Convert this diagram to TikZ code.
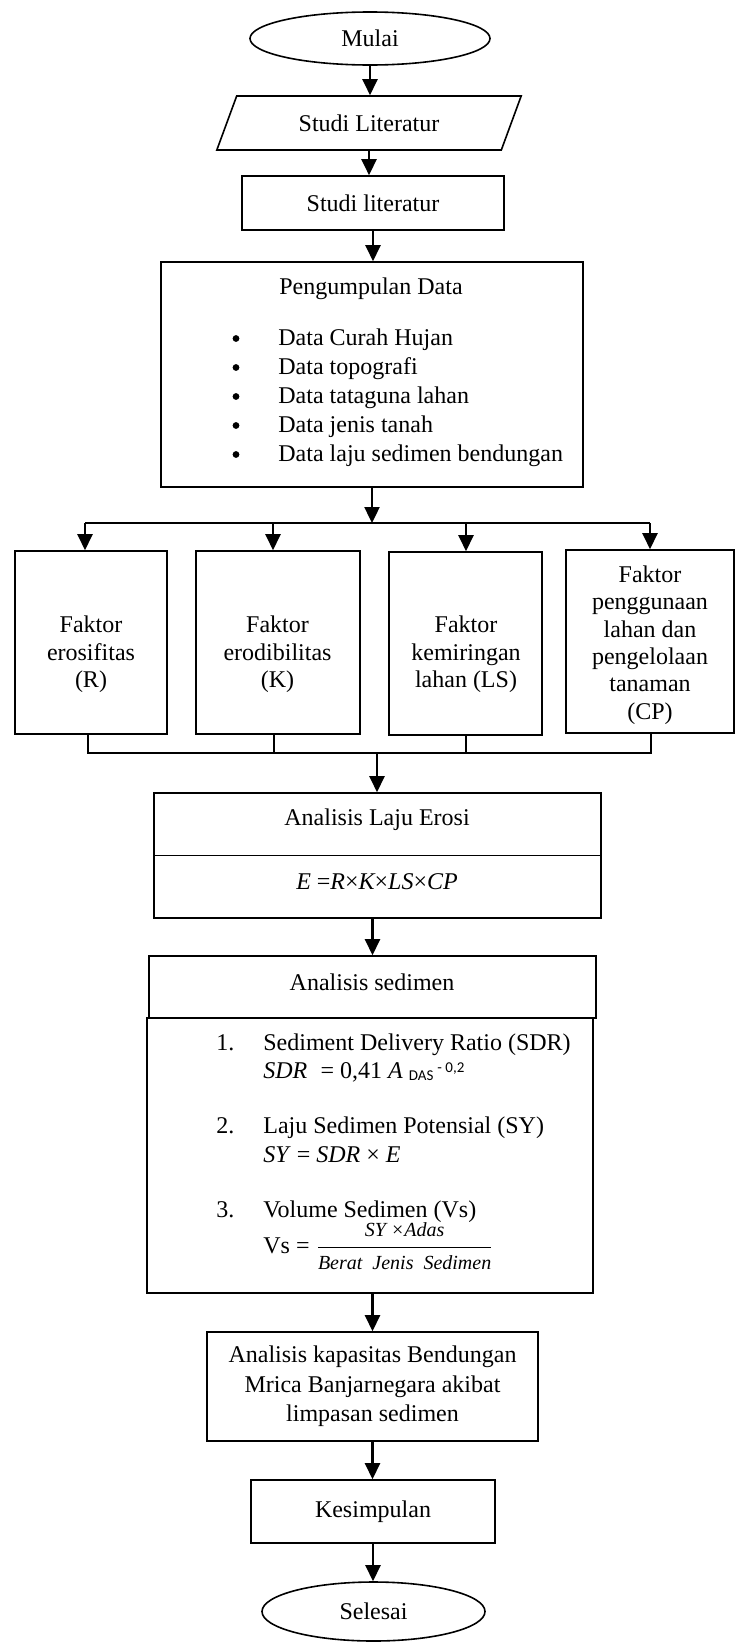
\documentclass[tikz,border=0pt]{standalone}
\usepackage{fontspec}
\setmainfont{Liberation Serif}
\newfontfamily\calibri{Carlito}
\usetikzlibrary{shapes.geometric,arrows.meta}
\begin{document}
\begin{tikzpicture}[x=0.5pt,y=-0.5pt,
  every node/.style={font=\fontsize{12}{14.5}\selectfont, inner sep=0pt},
  boxs/.style={draw, line width=0.8pt, rectangle},
  ell/.style={draw, line width=0.8pt, ellipse},
  arr/.style={line width=1.2pt, -{Triangle[length=8pt,width=7.5pt]}},
  bus/.style={line width=1.1pt},
  conn/.style={line width=0.65pt},
  dot/.style={circle, fill, minimum size=3.4pt},
  txt/.style={align=center}]
\useasboundingbox (0,0) rectangle (741,1644);
\fill[white] (0,0) rectangle (741,1644);

% top part
\node[ell, minimum width=120pt, minimum height=26.5pt] (mulai) at (370,38.5) {Mulai};
\node[draw, line width=0.8pt, trapezium, trapezium left angle=58, trapezium right angle=122,
      trapezium stretches=true, minimum width=153pt, minimum height=27pt] (lit1) at (369,123) {Studi Literatur};
\node[boxs, minimum width=131pt, minimum height=27pt] (lit2) at (373,203) {Studi literatur};

\node[boxs, minimum width=211pt, minimum height=112.5pt] (data) at (372,374.5) {};
\node[anchor=base] (dtitle) at (371,294) {Pengumpulan Data};
\foreach \t/\yy [count=\i] in {Data Curah Hujan/345, Data topografi/374, Data tataguna lahan/403, Data jenis tanah/432, Data laju sedimen bendungan/461}{
  \node[anchor=base west] (d\i) at (278,\yy) {\t};
  \node[dot] (bul\i) at (236,\yy-6.5) {};
}

\draw[arr] (mulai.south) -- (mulai.south |- lit1.north);
\draw[arr] (lit1.south) -- (lit1.south |- lit2.north);
\draw[arr] (lit2.south) -- (lit2.south |- data.north);

% factor boxes
\node[boxs, minimum width=76pt, minimum height=91.5pt] (f1) at (91,642.5) {};
\node[boxs, minimum width=82pt, minimum height=91.5pt] (f2) at (278,642.5) {};
\node[boxs, minimum width=76.5pt, minimum height=91.5pt] (f3) at (465.5,643.5) {};
\node[boxs, minimum width=84pt, minimum height=91.5pt] (f4) at (650,641.5) {};
\node[txt, font=\fontsize{12}{13.7}\selectfont] (t1) at (91,654.5) {Faktor\\erosifitas\\(R)};
\node[txt, font=\fontsize{12}{13.7}\selectfont] (t2) at (277.5,654.5) {Faktor\\erodibilitas\\(K)};
\node[txt, font=\fontsize{12}{13.7}\selectfont] (t3) at (466,654.5) {Faktor\\kemiringan\\lahan (LS)};
\node[txt, font=\fontsize{12}{13.7}\selectfont] (t4) at (650,645) {Faktor\\penggunaan\\lahan dan\\pengelolaan\\tanaman\\(CP)};

\coordinate (bL) at (85,523);
\coordinate (b2) at (273,523);
\coordinate (b3) at (466,523);
\coordinate (bR) at (650,523);
\draw[bus] (bL) -- (bR);
\draw[arr] (data.south) -- (data.south |- bL);
\draw[arr] (bL) -- (bL |- f1.north);
\draw[arr] (b2) -- (b2 |- f2.north);
\draw[arr] (b3) -- (b3 |- f3.north);
\draw[arr] (bR) -- (bR |- f4.north);

\coordinate (cL) at (88,753);
\coordinate (c2) at (274,753);
\coordinate (c3) at (466,753);
\coordinate (cR) at (651,753);
\coordinate (cm) at (377,753);
\draw[conn] (f1.south -| cL) -- (cL) -- (cR) -- (f4.south -| cR);
\draw[conn] (f2.south -| c2) -- (c2);
\draw[conn] (f3.south -| c3) -- (c3);

% erosi
\node[boxs, minimum width=223.5pt, minimum height=62.5pt] (erosi) at (377.5,855.5) {};
\draw[line width=0.8pt] (erosi.west) -- (erosi.east);
\node (et) at (377,820) {Analisis Laju Erosi};
\node (ef) at (377,882) {\itshape E {\upshape=}R{\upshape ×}K{\upshape ×}LS{\upshape ×}CP};
\draw[arr] (cm) -- (cm |- erosi.north);

% sedimen
\node[boxs, minimum width=223.5pt, minimum height=31pt] (sedA) at (372.5,987) {};
\node (st) at (372,982) {Analisis sedimen};
\node[boxs, minimum width=223pt, minimum height=137.5pt] (sedB) at (370,1155.5) {};
\draw[arr] (sedA.north |- erosi.south) -- (sedA.north);

\node[anchor=base west] (n1) at (216,1050) {1.};
\node[anchor=base west] (i1) at (263,1050) {Sediment Delivery Ratio (SDR)};
\node[anchor=base west] (e1) at (263,1078) {\textit{SDR}\hspace{0.55em}= 0,41 \textit{A} \raisebox{-1.3pt}{\calibri\fontsize{7.5}{9}\selectfont DAS}\,\raisebox{2.8pt}{\calibri\fontsize{7.5}{9}\selectfont - 0,2}};
\node[anchor=base west] (n2) at (216,1133) {2.};
\node[anchor=base west] (i2) at (263,1133) {Laju Sedimen Potensial (SY)};
\node[anchor=base west] (e2) at (263,1162) {\textit{SY} = \textit{SDR} × \textit{E}};
\node[anchor=base west] (n3) at (216,1217) {3.};
\node[anchor=base west] (i3) at (263,1217) {Volume Sedimen (Vs)};
\node[anchor=base west] (e3) at (263,1253) {Vs = $\displaystyle\frac{\mbox{\fontsize{10}{12}\selectfont\itshape SY ×Adas}}{\mbox{\fontsize{10}{12}\selectfont\itshape Berat\ \ Jenis\ \ Sedimen}}$};

% bottom part
\node[boxs, txt, minimum width=165.5pt, minimum height=54.5pt, font=\fontsize{12}{14.75}\selectfont] (kap) at (372.5,1386.5) {Analisis kapasitas Bendungan\\Mrica Banjarnegara akibat\\limpasan sedimen};
\node[boxs, minimum width=122pt, minimum height=31.5pt] (kes) at (373,1511.5) {Kesimpulan};
\node[ell, minimum width=111.5pt, minimum height=29.5pt] (selesai) at (373.5,1611.5) {Selesai};

\draw[arr] (kap.north |- sedB.south) -- (kap.north);
\draw[arr] (kap.south) -- (kap.south |- kes.north);
\draw[arr] (kes.south) -- (kes.south |- selesai.north);
\end{tikzpicture}
\end{document}
